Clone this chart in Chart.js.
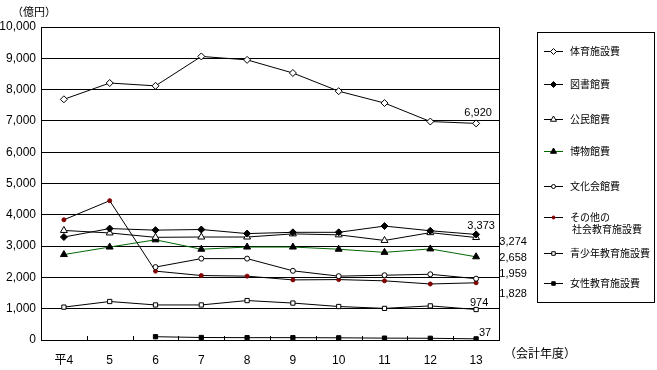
<!DOCTYPE html>
<html>
<head>
<meta charset="utf-8">
<script src="https://cdn.jsdelivr.net/npm/chart.js@4"></script>
<style>
  body { margin: 0; background: #fff; }
  #wrap { position: relative; width: 657px; height: 370px; }
  .note { position: absolute; font: 11px 'Noto Sans CJK JP', sans-serif; color: #000; white-space: nowrap; }
</style>
</head>
<body>
<div id="wrap">
  <canvas id="c" width="657" height="370"></canvas>
  <div class="note" style="left:12px; top:3px;">（億円）</div>
  <div class="note" style="left:504px; top:344px; font-size:12px;">（会計年度）</div>
</div>
<script>
// 年度
const years = ['平4', '5', '6', '7', '8', '9', '10', '11', '12', '13'];

// 各費目（億円）
const taiiku    = [7690, 8210, 8120, 9060, 8950, 8530, 7950, 7570, 6980, 6920];
const tosho     = [3290, 3560, 3510, 3530, 3400, 3440, 3440, 3640, 3490, 3373];
const kominkan  = [3500, 3420, 3280, 3290, 3290, 3390, 3360, 3180, 3430, 3274];
const hakubutsu = [2730, 2970, 3200, 2900, 2970, 2970, 2900, 2800, 2910, 2658];
const bunka     = [null, null, 2330, 2600, 2600, 2210, 2040, 2070, 2100, 1959];
const sonota    = [3840, 4450, 2200, 2060, 2040, 1920, 1930, 1890, 1790, 1828];
const seishonen = [1050, 1230, 1120, 1120, 1260, 1180, 1070, 1010, 1090, 974];
const josei     = [null, null, 105, 80, 75, 75, 70, 60, 55, 37];

const yTicks = [0, 1000, 2000, 3000, 4000, 5000, 6000, 7000, 8000, 9000, 10000];

const FONT = "'Liberation Sans', 'Noto Sans CJK JP', sans-serif";

function series(label, data, style, pointBg, pointBorder, lineColor, radius) {
    return {
        label: label,
        data: data,
        borderColor: lineColor,
        borderWidth: 1,
        pointStyle: style,
        pointRadius: radius,
        pointBackgroundColor: pointBg,
        pointBorderColor: pointBorder,
        pointBorderWidth: 1,
        tension: 0,
        fill: false,
        spanGaps: false
    };
}

const datasets = [
    series('体育施設費', taiiku, 'rectRot', '#fff', '#000', '#000', 3.5),
    series('図書館費', tosho, 'rectRot', '#000', '#000', '#000', 3.5),
    series('公民館費', kominkan, 'triangle', '#fff', '#000', '#000', 4),
    series('博物館費', hakubutsu, 'triangle', '#000', '#000', '#006600', 4),
    series('文化会館費', bunka, 'circle', '#fff', '#000', '#000', 2.5),
    series('その他の\n社会教育施設費', sonota, 'circle', '#800000', '#800000', '#000', 2),
    series('青少年教育施設費', seishonen, 'rect', '#fff', '#000', '#000', 3),
    series('女性教育施設費', josei, 'rect', '#000', '#000', '#000', 3)
];

// 末尾の数値ラベルの位置（最終点からのずれ）
const endLabelOffset = [[2, -10], [5, -8], [37, 4], [37, 1], [37, -5], [37, 11], [3, -7], [9, -6]];
// 凡例の行位置
const legendRows = [51, 84, 119, 151, 186, 217, 253, 283];

const extras = {
    id: 'extras',
    afterDatasetsDraw(chart) {
        const ctx = chart.ctx;
        const a = chart.chartArea;
        const x = chart.scales.x;
        ctx.save();
        // 枠
        ctx.strokeStyle = '#000';
        ctx.lineWidth = 1;
        ctx.beginPath();
        ctx.moveTo(Math.round(a.left) + 0.5, Math.round(a.top) + 0.5);
        ctx.lineTo(Math.round(a.right) + 0.5, Math.round(a.top) + 0.5);
        ctx.lineTo(Math.round(a.right) + 0.5, Math.round(a.bottom) + 0.5);
        ctx.stroke();
        // 内向きの目盛り
        for (let i = 1; i < years.length; i++) {
            const px = Math.round((x.getPixelForValue(i - 1) + x.getPixelForValue(i)) / 2) + 0.5;
            ctx.beginPath();
            ctx.moveTo(px, a.bottom);
            ctx.lineTo(px, a.bottom - 4);
            ctx.stroke();
        }
        // 末尾の数値
        ctx.fillStyle = '#000';
        ctx.font = '11px ' + FONT;
        ctx.textAlign = 'center';
        ctx.textBaseline = 'middle';
        chart.data.datasets.forEach((ds, i) => {
            const meta = chart.getDatasetMeta(i);
            const last = meta.data[meta.data.length - 1];
            const v = ds.data[ds.data.length - 1];
            const off = endLabelOffset[i];
            ctx.fillText(v.toLocaleString('en-US'), last.x + off[0], last.y + off[1]);
        });
        // 凡例
        ctx.strokeRect(537.5, 32.5, 117, 270);
        ctx.textAlign = 'left';
        ctx.font = "10px 'Noto Sans CJK JP', sans-serif";
        chart.data.datasets.forEach((ds, i) => {
            const y = legendRows[i];
            ctx.strokeStyle = ds.borderColor;
            ctx.beginPath();
            ctx.moveTo(544, y + 0.5);
            ctx.lineTo(563, y + 0.5);
            ctx.stroke();
            ctx.fillStyle = ds.pointBackgroundColor;
            ctx.strokeStyle = ds.pointBorderColor;
            ctx.lineWidth = 1;
            Chart.helpers.drawPoint(ctx, { pointStyle: ds.pointStyle, radius: ds.pointRadius - 0.5, rotation: 0, borderWidth: 1 }, 553.5, y + 0.5);
            ctx.fillStyle = '#000';
            ds.label.split('\n').forEach((t, k) => {
                ctx.fillText(t, 570 + (k ? 2 : 0), y + k * 12);
            });
        });
        ctx.restore();
    }
};

new Chart(document.getElementById('c'), {
    type: 'line',
    data: { labels: years, datasets: datasets },
    options: {
        responsive: false,
        animation: false,
        devicePixelRatio: 1,
        layout: { padding: { top: 27, right: 158, left: 0, bottom: 0 } },
        plugins: { legend: { display: false }, tooltip: { enabled: false } },
        scales: {
            x: {
                offset: true,
                grid: { display: false },
                border: { display: true, color: '#000', width: 1 },
                ticks: { color: '#000', font: { size: 12, family: FONT }, padding: 5, maxRotation: 0 },
                afterFit: s => { s.height = 30; }
            },
            y: {
                min: 0,
                max: 10000,
                afterBuildTicks: s => { s.ticks = yTicks.map(v => ({ value: v })); },
                grid: { color: '#000', lineWidth: 1, drawTicks: false },
                border: { display: true, color: '#000', width: 1 },
                ticks: { color: '#000', font: { size: 12, family: FONT }, padding: 5,
                         callback: v => v.toLocaleString('en-US') },
                afterFit: s => { s.width = 41; }
            }
        }
    },
    plugins: [extras]
});
</script>
</body>
</html>
